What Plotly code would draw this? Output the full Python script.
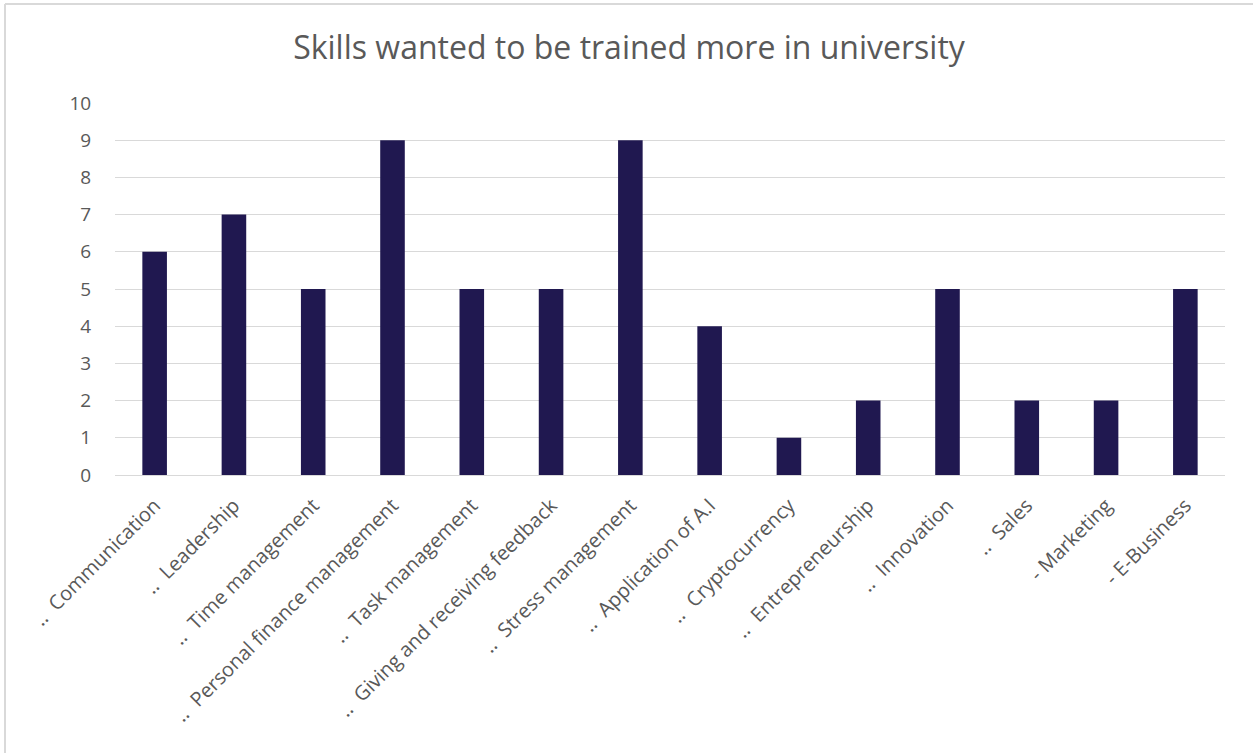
import plotly.graph_objects as go

# Survey results: number of respondents per skill
skills = [
    "‥  Communication",
    "‥  Leadership",
    "‥  Time management",
    "‥  Personal finance management",
    "‥  Task management",
    "‥  Giving and receiving feedback",
    "‥  Stress management",
    "‥  Application of A.I",
    "‥  Cryptocurrency",
    "‥  Entrepreneurship",
    "‥  Innovation",
    "‥  Sales",
    "- Marketing",
    "- E-Business",
]
counts = [6, 7, 5, 9, 5, 5, 9, 4, 1, 2, 5, 2, 2, 5]
y_ticks = [0, 1, 2, 3, 4, 5, 6, 7, 8, 9, 10]

W, H = 1253, 753
ML, MR, MT, MB = 115, 28, 103, 278
FONT = "Open Sans"
GREY = "#595959"

fig = go.Figure(
    go.Bar(
        x=skills,
        y=counts,
        marker=dict(color="#201850", line=dict(width=0)),
    )
)

# light frame along the top and left edges of the chart area
pw, ph = W - ML - MR, H - MT - MB
def px_x(p):
    return (p - ML) / pw
def px_y(p):
    return (H - MB - p) / ph

frame = dict(color="#d9d9d9", width=2)
fig.add_shape(type="line", xref="paper", yref="paper",
              x0=px_x(5), x1=px_x(W), y0=px_y(4), y1=px_y(4), line=frame)
fig.add_shape(type="line", xref="paper", yref="paper",
              x0=px_x(5), x1=px_x(5), y0=px_y(4), y1=px_y(H), line=frame)

fig.update_layout(
    width=W,
    height=H,
    margin=dict(l=ML, r=MR, t=MT, b=MB),
    paper_bgcolor="white",
    plot_bgcolor="white",
    bargap=0.69,
    showlegend=False,
    title=dict(
        text="Skills wanted to be trained more in university",
        x=0.502, xref="container", xanchor="center",
        y=1 - 48 / H, yref="container", yanchor="middle",
        font=dict(family=FONT, size=32, color=GREY),
    ),
    font=dict(family=FONT, color=GREY),
)

fig.update_xaxes(
    tickangle=-45,
    tickfont=dict(family=FONT, size=20, color=GREY),
    showgrid=False,
    showline=True,
    linecolor="#d9d9d9",
    linewidth=1,
    ticks="",
    ticklabelstandoff=10,
)
fig.update_yaxes(
    range=[0, 10],
    tickvals=y_ticks,
    tickfont=dict(family=FONT, size=19, color=GREY),
    showgrid=True,
    gridcolor="#d9d9d9",
    gridwidth=1,
    zeroline=False,
    showline=False,
    ticks="outside",
    ticklen=19,
    tickcolor="white",
)

fig.write_html("out.html")
